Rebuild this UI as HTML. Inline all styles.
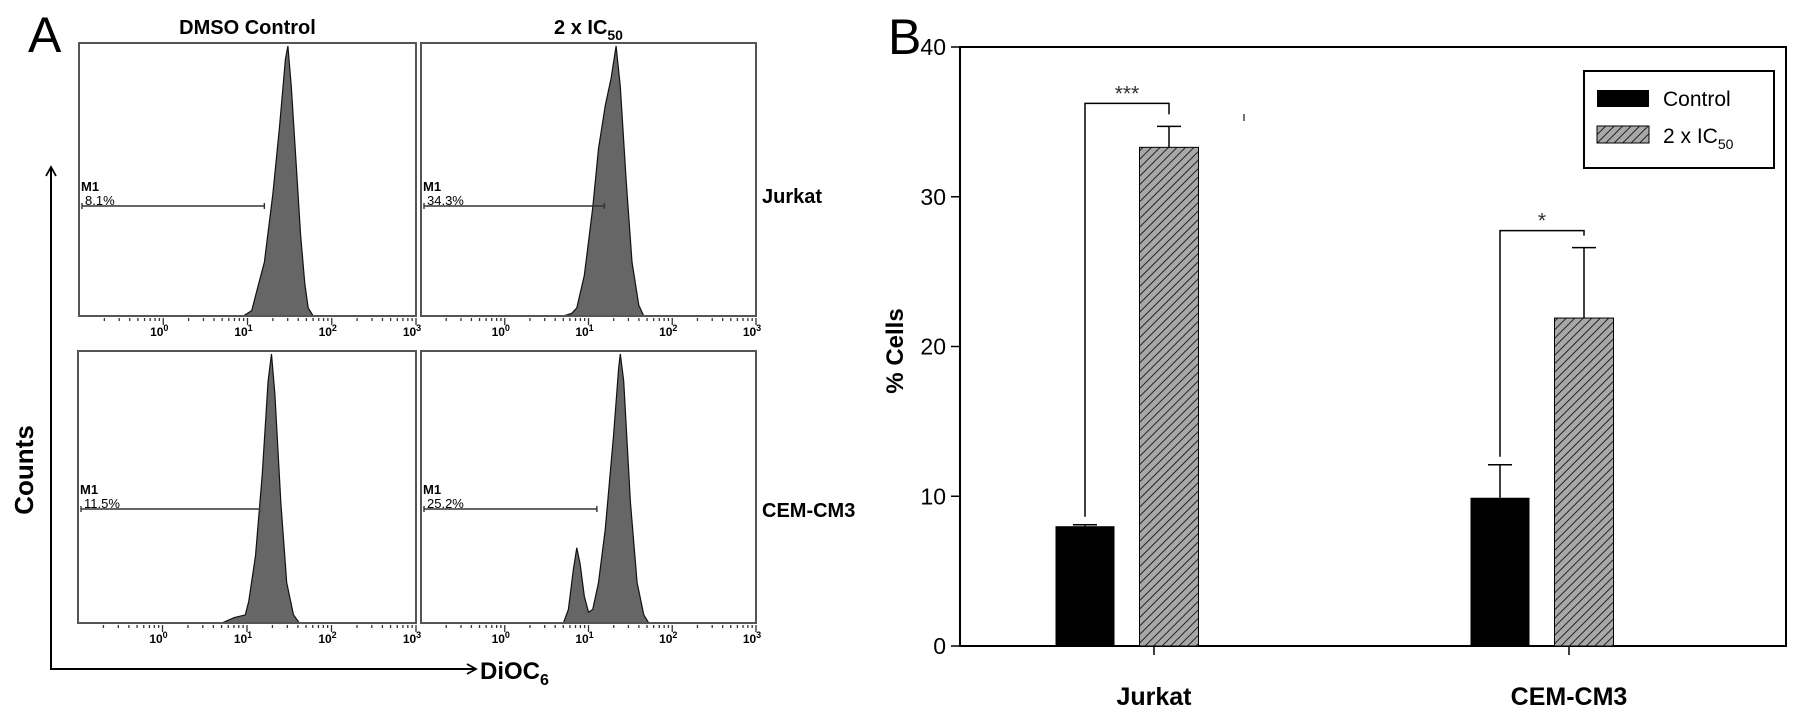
<!DOCTYPE html>
<html><head><meta charset="utf-8">
<style>
html,body{margin:0;padding:0;background:#fff;}
svg{display:block;font-family:"Liberation Sans",Arial,sans-serif;}
</style></head>
<body>
<svg id="fig" width="1795" height="707" viewBox="0 0 1795 707" xmlns="http://www.w3.org/2000/svg">
<defs>
<pattern id="hatch" patternUnits="userSpaceOnUse" width="6" height="6" patternTransform="rotate(45)">
<rect width="6" height="6" fill="#a8a8a8"/>
<line x1="0" y1="0" x2="0" y2="6" stroke="#222" stroke-width="2"/>
</pattern>
<marker id="arr" markerWidth="12" markerHeight="12" refX="10" refY="6" orient="auto" markerUnits="userSpaceOnUse">
<path d="M1,1 L10,6 L1,11" fill="none" stroke="#000" stroke-width="1.8"/>
</marker>
</defs>
<g id="panelA"></g>
<g id="panelB"></g>
</svg>
<script>
// ---------- Panel A data (histograms: log10 intensity vs relative count) ----------
const histTitles = ["DMSO Control", "2 x IC50"];
const rowLabels = ["Jurkat", "CEM-CM3"];
const m1Values = ["8.1%", "34.3%", "11.5%", "25.2%"];
const m1Ends = [1.2, 1.19, 1.15, 1.1];
const h0x = [0.95,1.05,1.1,1.2,1.3,1.38,1.45,1.48,1.52,1.58,1.63,1.68,1.72,1.78];
const h0y = [0,0.02,0.08,0.2,0.45,0.7,0.95,1,0.85,0.55,0.3,0.12,0.03,0];
const h1x = [0.7,0.8,0.86,0.95,1.05,1.12,1.2,1.27,1.33,1.38,1.45,1.52,1.6,1.66];
const h1y = [0,0.01,0.03,0.15,0.4,0.62,0.78,0.88,1,0.85,0.5,0.2,0.04,0];
const h2x = [0.7,0.85,0.98,1.02,1.1,1.18,1.25,1.29,1.33,1.4,1.47,1.55,1.62];
const h2y = [0,0.02,0.03,0.08,0.25,0.55,0.9,1,0.85,0.45,0.15,0.03,0];
const h3x = [0.7,0.76,0.82,0.86,0.9,0.95,1.0,1.05,1.12,1.2,1.3,1.36,1.38,1.42,1.5,1.58,1.66,1.72];
const h3y = [0,0.05,0.2,0.28,0.22,0.1,0.04,0.05,0.15,0.35,0.7,0.95,1,0.9,0.45,0.15,0.03,0];
const histX = [h0x,h1x,h2x,h3x];
const histY = [h0y,h1y,h2y,h3y];
const decadeLabels = ["0","1","2","3"];

// ---------- Panel B data ----------
const categories = ["Jurkat", "CEM-CM3"];
const controlVals = [8.0, 9.9];
const controlErr = [8.1, 12.1];
const ic50Vals = [33.3, 21.9];
const ic50Err = [34.7, 26.6];
const sigMarks = ["***", "*"];
const yTicks = [0,10,20,30,40];

const NS="http://www.w3.org/2000/svg";
function mk(parent, tag, attrs, text){
  const e=document.createElementNS(NS,tag);
  for(const k in attrs) e.setAttribute(k,attrs[k]);
  if(text!==undefined) e.textContent=text;
  parent.appendChild(e); return e;
}
const A=document.getElementById('panelA');
const B=document.getElementById('panelB');

// ----- Panel A -----
let t;
t=mk(A,'text',{x:28,y:52,'font-size':50},'A');



const boxes=[{l:79,r:416,t:43,b:316},{l:421,r:756,t:43,b:316},{l:78,r:416,t:351,b:623},{l:421,r:756,t:351,b:623}];
histTitles.forEach((s,i)=>{
  const cx=(boxes[i].l+boxes[i].r)/2;
  const tt=mk(A,'text',{x:cx,y:34,'font-size':20,'font-weight':'bold','text-anchor':'middle'});
  
  
  if(s.indexOf('IC50')>=0){ tt.textContent='2 x IC'; mk(tt,'tspan',{'font-size':14,dy:6},'50'); }
  else tt.textContent=s;
});
rowLabels.forEach((s,i)=>{
  const r=mk(A,'text',{x:762,y:i?517:203,'font-size':20,'font-weight':'bold'},s);
  
  
});

boxes.forEach((bx,i)=>{
  const g=mk(A,'g',{});
  
  
  const dec=(bx.r-bx.l)/4;
  const sx=v=>bx.l+(v+1)*dec;
  const sy=f=>bx.b-f*(bx.b-bx.t-3);
  let d='M'+sx(histX[i][0])+','+bx.b;
  histX[i].forEach((v,j)=>{d+=' L'+sx(v).toFixed(1)+','+sy(histY[i][j]).toFixed(1);});
  d+=' L'+sx(histX[i][histX[i].length-1])+','+bx.b+'Z';
  const p=mk(g,'path',{d:d,fill:'#666',stroke:'#111','stroke-width':1.2});
  
  
  const r=mk(g,'rect',{x:bx.l,y:bx.t,width:bx.r-bx.l,height:bx.b-bx.t,fill:'none',stroke:'#555','stroke-width':2});
  
  
  for(let dd=-1;dd<3;dd++){
    for(let m=2;m<=10;m++){
      const x=sx(dd+Math.log10(m));
      mk(g,'line',{x1:x,y1:bx.b+2,x2:x,y2:bx.b+(m===10?9:5),stroke:'#333','stroke-width':1.3});
    }
  }
  decadeLabels.forEach((s,k)=>{
    const x=sx(k);
    const tl=mk(g,'text',{x:x-4,y:bx.b+20,'font-size':12,'font-weight':'bold','text-anchor':'middle'},'10');
    mk(tl,'tspan',{'font-size':9,dy:-5},s);
    
    
  });
  const my=bx.t+(i<2?163:158);
  const x1=bx.l+3, x2=sx(m1Ends[i]);
  const ml=mk(g,'line',{x1:x1,y1:my,x2:x2,y2:my,stroke:'#333','stroke-width':1.4});
  
  
  mk(g,'line',{x1:x1,y1:my-3,x2:x1,y2:my+3,stroke:'#333','stroke-width':1.4});
  mk(g,'line',{x1:x2,y1:my-3,x2:x2,y2:my+3,stroke:'#333','stroke-width':1.4});
  mk(g,'text',{x:bx.l+2,y:my-15,'font-size':13,'font-weight':'bold'},'M1');
  const pv=mk(g,'text',{x:bx.l+6,y:my-1,'font-size':13},m1Values[i]);
  
  
});
let ax=mk(A,'line',{x1:51,y1:669,x2:51,y2:167,stroke:'#000','stroke-width':2,'marker-end':'url(#arr)'});


ax=mk(A,'line',{x1:50,y1:669,x2:476,y2:669,stroke:'#000','stroke-width':2,'marker-end':'url(#arr)'});


t=mk(A,'text',{x:33,y:470,'font-size':26,'font-weight':'bold','text-anchor':'middle',transform:'rotate(-90 33 470)'},'Counts');


t=mk(A,'text',{x:480,y:679,'font-size':24,'font-weight':'bold'},'DiOC');
mk(t,'tspan',{'font-size':16,dy:6},'6');



// ----- Panel B -----
const L=960,R=1786,T=47,Y0=646;
const ys=v=>Y0-v*(Y0-T)/40;
const xc=i=>1169+i*415;
const bw=59, off=-84, tickOff=-15;
t=mk(B,'text',{x:888,y:54,'font-size':50},'B');


let fr=mk(B,'rect',{x:L,y:T,width:R-L,height:Y0-T,fill:'none',stroke:'#000','stroke-width':2});


yTicks.forEach(v=>{
  mk(B,'line',{x1:L-9,y1:ys(v),x2:L,y2:ys(v),stroke:'#000','stroke-width':1.5});
  const tl=mk(B,'text',{x:L-14,y:ys(v)+8,'font-size':23,'text-anchor':'end'},String(v));
  
  
});
t=mk(B,'text',{x:903,y:351,'font-size':24,'font-weight':'bold','text-anchor':'middle',transform:'rotate(-90 903 351)'},'% Cells');


categories.forEach((c,i)=>{
  mk(B,'line',{x1:xc(i)+tickOff,y1:Y0,x2:xc(i)+tickOff,y2:Y0+9,stroke:'#000','stroke-width':1.5});
  const tl=mk(B,'text',{x:xc(i)+tickOff,y:705,'font-size':25,'font-weight':'bold','text-anchor':'middle'},c);
  
  
  const cxm=xc(i)+off;
  const b1=mk(B,'rect',{x:cxm-bw/2,y:ys(controlVals[i]),width:bw,height:Y0-ys(controlVals[i]),fill:'#000'});
  
  
  mk(B,'line',{x1:cxm,y1:ys(controlVals[i]),x2:cxm,y2:ys(controlErr[i]),stroke:'#000','stroke-width':1.5});
  mk(B,'line',{x1:cxm-12,y1:ys(controlErr[i]),x2:cxm+12,y2:ys(controlErr[i]),stroke:'#000','stroke-width':1.5});
  const xm=xc(i);
  const b2=mk(B,'rect',{x:xm-bw/2,y:ys(ic50Vals[i]),width:bw,height:Y0-ys(ic50Vals[i]),fill:'url(#hatch)',stroke:'#000','stroke-width':1});
  
  
  mk(B,'line',{x1:xm,y1:ys(ic50Vals[i]),x2:xm,y2:ys(ic50Err[i]),stroke:'#000','stroke-width':1.5});
  mk(B,'line',{x1:xm-12,y1:ys(ic50Err[i]),x2:xm+12,y2:ys(ic50Err[i]),stroke:'#000','stroke-width':1.5});
  const top=ys(ic50Err[i])-(i?17:23);
  const br=mk(B,'path',{d:'M'+cxm+','+(ys(controlErr[i])-8)+' L'+cxm+','+top+' L'+xm+','+top+' L'+xm+','+(ys(ic50Err[i])-12),fill:'none',stroke:'#000','stroke-width':1.5});
  
  
  const st=mk(B,'text',{x:(cxm+xm)/2,y:top-3,'font-size':21,'text-anchor':'middle',fill:'#333'},sigMarks[i]);
  
  
});
mk(B,'line',{x1:1244,y1:114,x2:1244,y2:121,stroke:'#444','stroke-width':1.5});
const lg=mk(B,'g',{});


mk(lg,'rect',{x:1584,y:71,width:190,height:97,fill:'#fff',stroke:'#000','stroke-width':2});
let le=mk(lg,'rect',{x:1597,y:90,width:52,height:17,fill:'#000'});


t=mk(lg,'text',{x:1663,y:106,'font-size':21},'Control');


le=mk(lg,'rect',{x:1597,y:126,width:52,height:17,fill:'url(#hatch)',stroke:'#000','stroke-width':1});


t=mk(lg,'text',{x:1663,y:143,'font-size':21},'2 x IC');
mk(t,'tspan',{'font-size':14,dy:6},'50');


</script>
</body></html>
